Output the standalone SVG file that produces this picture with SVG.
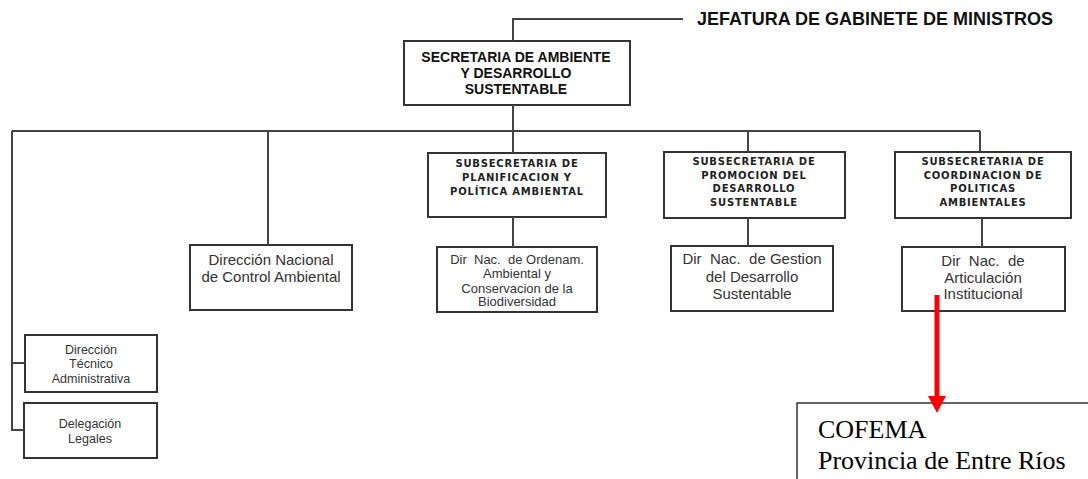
<svg xmlns="http://www.w3.org/2000/svg" width="1088" height="479" viewBox="0 0 1088 479">
<style>
.box{fill:#fff;stroke:#333;stroke-width:2}
.ln{fill:none;stroke:#444;stroke-width:2}
.hd{font-family:"Liberation Sans",Arial,sans-serif;font-weight:bold;fill:#111}
.sub{font-family:"DejaVu Sans",Verdana,sans-serif;font-weight:bold;font-size:10px;letter-spacing:0.8px;fill:#222;text-anchor:middle}
.dir{font-family:"Liberation Sans",Arial,sans-serif;fill:#333;text-anchor:middle}
.tnr{font-family:"Liberation Serif","Times New Roman",serif;font-size:26px;fill:#000}
</style>
<rect width="1088" height="479" fill="#fff"/>
<g id="jefatura">
<text class="hd" x="697" y="25" font-size="18">JEFATURA DE GABINETE DE MINISTROS</text>
</g>
<g id="secretaria">
<rect class="box" x="404" y="41" width="226" height="64"/>
<text class="hd" font-size="14" text-anchor="middle"><tspan x="516" y="62">SECRETARIA DE AMBIENTE</tspan><tspan x="516" y="78">Y DESARROLLO</tspan><tspan x="516" y="94">SUSTENTABLE</tspan></text>
</g>
<g id="dir-control">
<rect class="box" x="190" y="245" width="162" height="65"/>
<text class="dir" font-size="15"><tspan x="271" y="265">Dirección Nacional</tspan><tspan x="271" y="282">de Control Ambiental</tspan></text>
</g>
<g id="sub-planificacion">
<rect class="box" x="428" y="153" width="178" height="64"/>
<text class="sub"><tspan x="517" y="167">SUBSECRETARIA DE</tspan><tspan x="517" y="181">PLANIFICACION Y</tspan><tspan x="517" y="195">POLÍTICA AMBIENTAL</tspan></text>
</g>
<g id="dir-ordenam">
<rect class="box" x="437" y="247" width="160" height="65"/>
<text class="dir" font-size="13" xml:space="preserve"><tspan x="517" y="263.5">Dir  Nac.  de Ordenam.</tspan><tspan x="517" y="277.5">Ambiental y</tspan><tspan x="517" y="292.5">Conservacion de la</tspan><tspan x="517" y="305.5">Biodiversidad</tspan></text>
</g>
<g id="sub-promocion">
<rect class="box" x="664" y="152" width="181" height="66"/>
<text class="sub"><tspan x="754" y="165">SUBSECRETARIA DE</tspan><tspan x="754" y="178.5">PROMOCION DEL</tspan><tspan x="754" y="192">DESARROLLO</tspan><tspan x="754" y="205.5">SUSTENTABLE</tspan></text>
</g>
<g id="dir-gestion">
<rect class="box" x="671" y="246" width="162" height="65"/>
<text class="dir" font-size="15" xml:space="preserve"><tspan x="752" y="264">Dir  Nac.  de Gestion</tspan><tspan x="752" y="281.5">del Desarrollo</tspan><tspan x="752" y="299">Sustentable</tspan></text>
</g>
<g id="sub-coordinacion">
<rect class="box" x="895" y="152" width="176" height="66"/>
<text class="sub"><tspan x="983" y="165">SUBSECRETARIA DE</tspan><tspan x="983" y="178.5">COORDINACION DE</tspan><tspan x="983" y="192">POLITICAS</tspan><tspan x="983" y="205.5">AMBIENTALES</tspan></text>
</g>
<g id="dir-articulacion">
<rect class="box" x="902" y="247" width="163" height="64"/>
<text class="dir" font-size="15" xml:space="preserve"><tspan x="983" y="266">Dir  Nac.  de</tspan><tspan x="983" y="282.5">Articulación</tspan><tspan x="983" y="299">Institucional</tspan></text>
</g>
<g id="dir-tecnico">
<rect class="box" x="25" y="335" width="132" height="57"/>
<text class="dir" font-size="12.5"><tspan x="91" y="353.5">Dirección</tspan><tspan x="91" y="368">Técnico</tspan><tspan x="91" y="382.5">Administrativa</tspan></text>
</g>
<g id="delegacion">
<rect class="box" x="24" y="403" width="133" height="55"/>
<text class="dir" font-size="12.5"><tspan x="90" y="427.5">Delegación</tspan><tspan x="90" y="442.5">Legales</tspan></text>
</g>
<g id="cofema">
<rect x="797" y="403" width="300" height="90" fill="none" stroke="#000" stroke-width="1.2"/>
<text class="tnr"><tspan x="818" y="438">COFEMA</tspan><tspan x="818" y="469">Provincia de Entre Ríos</tspan></text>
</g>
<g id="connectors">
<polyline class="ln" points="513,41 513,19 683,19"/>
<line class="ln" x1="513" y1="105" x2="513" y2="153"/>
<line class="ln" x1="12" y1="131" x2="980" y2="131"/>
<polyline class="ln" points="12,131 12,430 24,430"/>
<line class="ln" x1="12" y1="363" x2="25" y2="363"/>
<line class="ln" x1="268" y1="131" x2="268" y2="245"/>
<line class="ln" x1="513" y1="217" x2="513" y2="247"/>
<line class="ln" x1="748" y1="131" x2="748" y2="152"/>
<line class="ln" x1="748" y1="218" x2="748" y2="246"/>
<line class="ln" x1="980" y1="131" x2="980" y2="152"/>
<line class="ln" x1="982" y1="218" x2="982" y2="247"/>
<line x1="937" y1="295" x2="937" y2="398" stroke="#ff0000" stroke-width="5"/>
<polygon points="928,396 946,396 937,413" fill="#ff0000"/>
</g>
</svg>
